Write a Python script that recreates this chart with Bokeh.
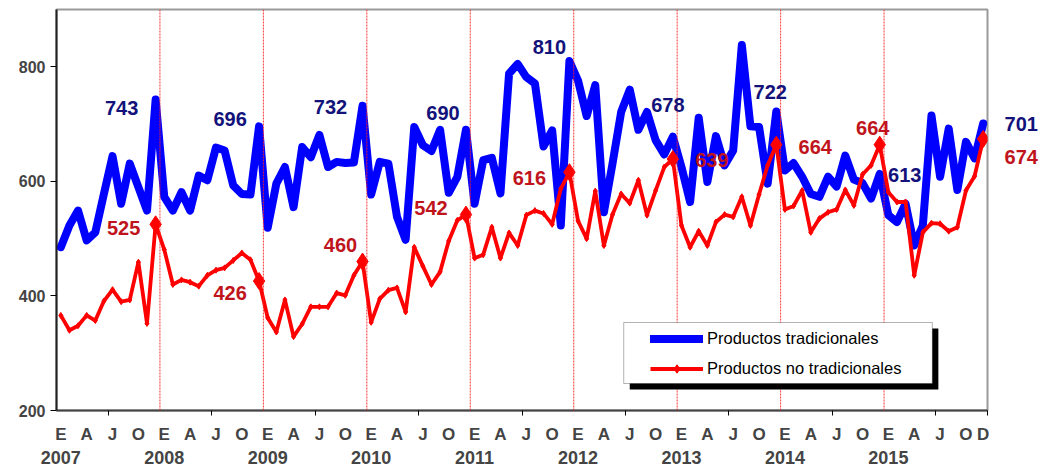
from bokeh.plotting import figure
from bokeh.layouts import row
from bokeh.models import (Range1d, FixedTicker, LinearAxis, Span, BoxAnnotation,
                          Legend, LegendItem, ColumnDataSource, LabelSet)
from bokeh.core.properties import value
from bokeh.embed import file_html
from bokeh.resources import INLINE

years = [2007, 2008, 2009, 2010, 2011, 2012, 2013, 2014, 2015]
month_letters = ["E", "A", "J", "O"]

tradicionales = [
    485, 523, 549, 497, 511, 578, 644, 561, 631, 590, 549, 743,
    573, 549, 581, 549, 610, 602, 659, 654, 593, 578, 577, 696,
    519, 596, 625, 555, 660, 642, 681, 625, 634, 632, 633, 732,
    577, 634, 631, 538, 498, 695, 663, 653, 690, 580, 608, 690,
    561, 637, 641, 579, 788, 805, 782, 771, 661, 689, 523, 810,
    776, 714, 768, 546, 631, 721, 760, 690, 721, 672, 647, 678,
    625, 564, 711, 599, 679, 628, 654, 838, 696, 695, 596, 722,
    619, 632, 608, 578, 573, 608, 591, 645, 603, 597, 570, 613,
    541, 529, 561, 488, 523, 715, 608, 692, 585, 669, 640, 701,
]
no_tradicionales = [
    366, 340, 348, 366, 357, 391, 411, 390, 393, 459, 352, 525,
    481, 420, 428, 424, 417, 436, 445, 449, 462, 475, 463, 426,
    362, 337, 393, 329, 351, 381, 381, 381, 405, 401, 436, 460,
    354, 395, 410, 414, 372, 485, 452, 420, 442, 496, 532, 542,
    466, 472, 520, 466, 510, 488, 541, 549, 544, 525, 587, 616,
    531, 500, 583, 488, 542, 578, 562, 602, 541, 584, 625, 639,
    523, 485, 513, 488, 529, 542, 538, 573, 523, 577, 628, 664,
    551, 557, 584, 511, 535, 546, 551, 585, 558, 612, 628, 664,
    581, 564, 564, 436, 511, 527, 526, 513, 520, 584, 609, 674,
]
y_ticks = [200, 400, 600, 800]

n = len(tradicionales)
idx = list(range(n))
dec_idx = [12 * k + 11 for k in range(len(years))]

# label offsets in screen px (x right, y up) -- style only
blue_off = [(-34, -9), (-29, 7), (-32, -1), (-23, 17), (-20, 14), (-5, 32), (-6, 19), (25, -1), (0, -1)]
red_off = [(-32, -4), (-29, -12), (-22, 17), (-35, 7), (-40, -6), (39, -1), (39, -2), (-7, 17), (0, -18)]

FONT = "Liberation Sans"
BLUE_TXT = "#12127a"
RED_TXT = "#c0141c"
Y_RANGE = (200, 900)

p = figure(width=989, height=473, output_backend="svg", toolbar_location=None,
           x_range=Range1d(-0.5, n - 0.5), y_range=Range1d(*Y_RANGE),
           min_border_left=56, min_border_right=2, min_border_top=9, min_border_bottom=63)
p.grid.visible = False
p.outline_line_color = "#9a9a9a"
p.outline_line_width = 2
p.background_fill_color = "white"

# y axis
p.yaxis.ticker = FixedTicker(ticks=y_ticks)
p.yaxis.minor_tick_line_color = None
p.yaxis.major_tick_in = 0
p.yaxis.major_tick_out = 6
p.yaxis.axis_line_color = "#222222"
p.yaxis.axis_line_width = 2
p.yaxis.major_tick_line_width = 1
p.yaxis.major_label_text_font = FONT
p.yaxis.major_label_text_font_style = "bold"
p.yaxis.major_label_text_font_size = "16px"
p.yaxis.major_label_standoff = 5

# main x axis with ticks at mid-year
xt = [12 * k + 5.5 for k in range(len(years))] + [n - 0.5]
p.xaxis.ticker = FixedTicker(ticks=xt)
p.xaxis.major_label_overrides = {t: "" for t in xt}
p.xaxis.major_label_text_font_size = "1px"
p.xaxis.major_label_standoff = 0
p.xaxis.minor_tick_line_color = None
p.xaxis.major_tick_in = 0
p.xaxis.major_tick_out = 5
p.xaxis.axis_line_color = "#444444"
p.xaxis.axis_line_width = 2

# month letters axis
mt, ml = [], {}
for k in range(len(years)):
    for j, letter in enumerate(month_letters):
        pos = 12 * k + 3 * j
        mt.append(pos)
        ml[pos] = letter
mt.append(n - 1)
ml[n - 1] = "D"
ax_m = LinearAxis(ticker=FixedTicker(ticks=mt), major_label_overrides=ml,
                  axis_line_color=None, major_tick_line_color=None, minor_tick_line_color=None,
                  major_label_text_font=FONT, major_label_text_font_style="bold",
                  major_label_text_font_size="17px", major_label_standoff=3)
p.add_layout(ax_m, "below")

yt = [12 * k for k in range(len(years))]
ax_y = LinearAxis(ticker=FixedTicker(ticks=yt), major_label_overrides={12 * k: str(y) for k, y in enumerate(years)},
                  axis_line_color=None, major_tick_line_color=None, minor_tick_line_color=None,
                  major_label_text_font=FONT, major_label_text_font_style="bold",
                  major_label_text_font_size="18px", major_label_standoff=-2)
p.add_layout(ax_y, "below")

# year separators
for k in range(1, len(years)):
    p.add_layout(Span(location=12 * k - 0.5, dimension="height", line_color="#ff2020",
                      line_width=1, line_dash="2 1", line_alpha=0.9))

src = ColumnDataSource(dict(x=idx, t=tradicionales, nt=no_tradicionales))
r_blue = p.line("x", "t", source=src, line_color="#0000ff", line_width=8,
                line_join="round", line_cap="round")
r_red = p.line("x", "nt", source=src, line_color="#ff0000", line_width=3.8, line_join="round")
r_red_m = p.scatter("x", "nt", source=src, marker="diamond", size=6, color="#ff0000")
dsrc = ColumnDataSource(dict(x=dec_idx, y=[no_tradicionales[i] for i in dec_idx]))
p.scatter("x", "y", source=dsrc, marker="diamond", size=17, color="#ff0000")

# data labels inside the frame
inner = dec_idx[:-1]
bsrc = ColumnDataSource(dict(x=inner, y=[tradicionales[i] for i in inner],
                             text=[str(tradicionales[i]) for i in inner],
                             xo=[o[0] for o in blue_off[:-1]], yo=[o[1] for o in blue_off[:-1]]))
rsrc = ColumnDataSource(dict(x=inner, y=[no_tradicionales[i] for i in inner],
                             text=[str(no_tradicionales[i]) for i in inner],
                             xo=[o[0] for o in red_off[:-1]], yo=[o[1] for o in red_off[:-1]]))
for s, c in ((bsrc, BLUE_TXT), (rsrc, RED_TXT)):
    p.add_layout(LabelSet(x="x", y="y", text="text", source=s, x_offset="xo", y_offset="yo",
                          text_align="center", text_baseline="middle", text_color=c,
                          text_font=value(FONT), text_font_style="bold", text_font_size="20px"))

# legend box with shadow (data units)
p.add_layout(BoxAnnotation(left=66.0, right=101.8, top=343.0, bottom=236.6,
                           fill_color="black", fill_alpha=1, line_color=None))
p.add_layout(BoxAnnotation(left=65.3, right=101.1, top=353.6, bottom=247.1,
                           fill_color="white", fill_alpha=1, line_color="black", line_width=1))
legend = Legend(items=[LegendItem(label="Productos tradicionales", renderers=[r_blue]),
                       LegendItem(label="Productos no tradicionales", renderers=[r_red, r_red_m])],
                location=(594, 31), orientation="vertical",
                background_fill_alpha=0, border_line_color=None, padding=0, margin=0,
                spacing=9, glyph_width=53, glyph_height=21, label_height=21, label_standoff=4,
                label_text_font=FONT, label_text_font_size="16.5px", label_text_color="black")
p.add_layout(legend)

# side panel for the last values (outside the plot frame), same vertical scale
p2 = figure(width=53, height=473, output_backend="svg", toolbar_location=None,
            x_range=Range1d(0, 1), y_range=Range1d(*Y_RANGE),
            x_axis_location=None, y_axis_location=None,
            min_border_left=0, min_border_right=0, min_border_top=9, min_border_bottom=63)
p2.grid.visible = False
p2.outline_line_color = None
last = dec_idx[-1]
# glyph offsets are screen-down, so flip sign
lsrc = ColumnDataSource(dict(x=[0.6, 0.6], y=[tradicionales[last], no_tradicionales[last]],
                             text=[str(tradicionales[last]), str(no_tradicionales[last])],
                             c=[BLUE_TXT, RED_TXT],
                             yo=[-blue_off[-1][1], -red_off[-1][1]]))
p2.text("x", "y", text="text", source=lsrc, y_offset="yo", text_color="c",
        text_align="center", text_baseline="middle",
        text_font=value(FONT), text_font_style="bold", text_font_size="20px")

layout = row(p, p2, spacing=0)
open("out.html", "w").write(file_html(layout, INLINE))
